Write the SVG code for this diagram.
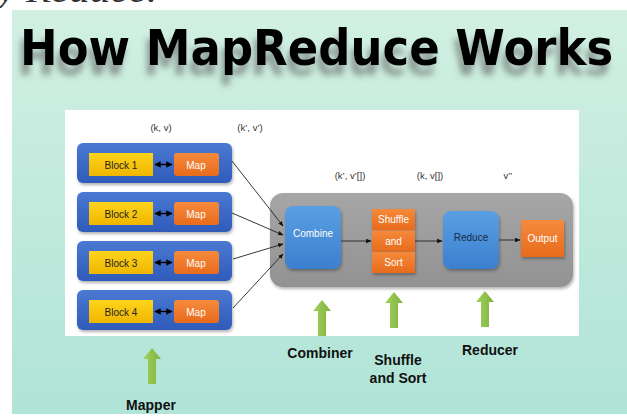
<svg xmlns="http://www.w3.org/2000/svg" width="627" height="417" viewBox="0 0 627 417">
<defs>
<linearGradient id="bg" x1="0" y1="0" x2="0" y2="1"><stop offset="0" stop-color="#d1f0e2"/><stop offset="1" stop-color="#b0e4d7"/></linearGradient>
<linearGradient id="blueRow" x1="0" y1="0" x2="0" y2="1"><stop offset="0" stop-color="#4a79d2"/><stop offset="1" stop-color="#2f5bba"/></linearGradient>
<linearGradient id="yellow" x1="0" y1="0" x2="0" y2="1"><stop offset="0" stop-color="#ffd41c"/><stop offset="1" stop-color="#efb600"/></linearGradient>
<linearGradient id="orange" x1="0" y1="0" x2="0" y2="1"><stop offset="0" stop-color="#f58a3c"/><stop offset="1" stop-color="#e86b1c"/></linearGradient>
<linearGradient id="proc" x1="0" y1="0" x2="0" y2="1"><stop offset="0" stop-color="#5a9fe2"/><stop offset="1" stop-color="#3b80cf"/></linearGradient>
<linearGradient id="gray" x1="0" y1="0" x2="0" y2="1"><stop offset="0" stop-color="#a6a6a6"/><stop offset="1" stop-color="#929292"/></linearGradient>
<linearGradient id="green" x1="0" y1="0" x2="1" y2="0"><stop offset="0" stop-color="#a3d15e"/><stop offset="1" stop-color="#7db23e"/></linearGradient>
<filter id="tshadow" x="-5%" y="-20%" width="110%" height="160%">
<feGaussianBlur in="SourceAlpha" stdDeviation="3" result="b"/>
<feOffset in="b" dx="-3" dy="10" result="o"/>
<feFlood flood-color="#555" flood-opacity="0.55"/>
<feComposite in2="o" operator="in" result="s"/>
<feMerge><feMergeNode in="s"/><feMergeNode in="SourceGraphic"/></feMerge>
</filter>
<filter id="shadow" x="-10%" y="-10%" width="130%" height="140%"><feDropShadow dx="1" dy="2" stdDeviation="1.5" flood-color="#000" flood-opacity="0.3"/></filter>
<marker id="ah" viewBox="0 0 10 10" refX="9" refY="5" markerWidth="6" markerHeight="6" orient="auto-start-reverse"><path d="M0,1 L10,5 L0,9 Z" fill="#111"/></marker>
<marker id="ah2" viewBox="0 0 10 10" refX="9" refY="5" markerWidth="4.5" markerHeight="4.5" orient="auto-start-reverse"><path d="M0,0 L10,5 L0,10 Z" fill="#000"/></marker>
<path id="garrow" d="M0,0 L9,11 L4,11 L4,36 L-4,36 L-4,11 L-9,11 Z" fill="url(#green)"/>
<style>
.row{fill:url(#blueRow);filter:url(#shadow)}
.blk{fill:url(#yellow)}
.map{fill:url(#orange)}
.proc{fill:url(#proc);filter:url(#shadow)}
.t{font-family:"Liberation Sans",Arial,sans-serif;font-size:10px;text-anchor:middle;dominant-baseline:central}
.dk{fill:#222}
.wh{fill:#fff}
.kv{font-family:"Liberation Sans",Arial,sans-serif;font-size:9.5px;fill:#333;text-anchor:middle}
.lbl{font-family:"Liberation Sans",Arial,sans-serif;font-size:14px;font-weight:bold;fill:#111;text-anchor:middle}
.conn{stroke:#222;stroke-width:0.9;fill:none;marker-end:url(#ah)}
.dbl{stroke:#000;stroke-width:1.4;marker-start:url(#ah2);marker-end:url(#ah2)}
</style>
</defs>

<rect x="0" y="0" width="627" height="417" fill="#fff"/>
<text x="-23" y="2" font-family="'Liberation Serif',serif" font-style="italic" font-size="34" fill="#333" textLength="180" lengthAdjust="spacingAndGlyphs">by Reduce.</text>
<rect x="12" y="10" width="615" height="404" fill="url(#bg)"/>

<g id="title" filter="url(#tshadow)">
<text transform="translate(20,65) scale(1,1.12)" x="0" y="0" font-family="'DejaVu Sans',Verdana,sans-serif" font-weight="bold" font-size="45" fill="#000">How MapReduce Works</text>
</g>

<rect id="panel" x="65" y="110" width="514" height="226" fill="#fff"/>

<g id="labels-kv">
<text class="kv" x="161" y="131">(k, v)</text>
<text class="kv" x="250" y="131">(k’, v’)</text>
<text class="kv" x="350" y="179">(k’, v’[])</text>
<text class="kv" x="430" y="179">(k, v[])</text>
<text class="kv" x="508" y="179">v’’</text>
</g>

<g id="mapper1">
<rect class="row" x="77" y="143" width="155" height="40" rx="6"/>
<rect class="blk" x="89" y="153" width="64" height="23"/>
<text class="t dk" x="121" y="165">Block 1</text>
<rect class="map" x="174" y="153" width="45" height="23" rx="3"/>
<text class="t wh" x="196" y="165">Map</text>
</g>
<g id="mapper2">
<rect class="row" x="77" y="192" width="155" height="40" rx="6"/>
<rect class="blk" x="89" y="202" width="64" height="23"/>
<text class="t dk" x="121" y="214">Block 2</text>
<rect class="map" x="174" y="202" width="45" height="23" rx="3"/>
<text class="t wh" x="196" y="214">Map</text>
</g>
<g id="mapper3">
<rect class="row" x="77" y="241" width="155" height="40" rx="6"/>
<rect class="blk" x="89" y="251" width="64" height="23"/>
<text class="t dk" x="121" y="263">Block 3</text>
<rect class="map" x="174" y="251" width="45" height="23" rx="3"/>
<text class="t wh" x="196" y="263">Map</text>
</g>
<g id="mapper4">
<rect class="row" x="77" y="290" width="155" height="40" rx="6"/>
<rect class="blk" x="89" y="300" width="64" height="23"/>
<text class="t dk" x="121" y="312">Block 4</text>
<rect class="map" x="174" y="300" width="45" height="23" rx="3"/>
<text class="t wh" x="196" y="312">Map</text>
</g>

<g id="container">
<rect x="270" y="193" width="303" height="94" rx="13" fill="url(#gray)" filter="url(#shadow)"/>
</g>
<g id="combine">
<rect class="proc" x="285" y="206" width="56" height="63" rx="8"/>
<text class="t wh" x="313" y="233">Combine</text>
</g>
<g id="shuffle">
<g filter="url(#shadow)">
<rect class="map" x="372" y="209" width="43" height="21"/>
<rect class="map" x="372" y="230.5" width="43" height="21"/>
<rect class="map" x="372" y="252" width="43" height="21"/>
</g>
<text class="t wh" x="393.5" y="219.5">Shuffle</text>
<text class="t wh" x="393.5" y="241">and</text>
<text class="t wh" x="393.5" y="262.5">Sort</text>
</g>
<g id="reduce">
<rect class="proc" x="443" y="211" width="56" height="58" rx="8"/>
<text class="t" x="471" y="237" fill="#1b2a48">Reduce</text>
</g>
<g id="output">
<rect class="map" x="521" y="220" width="43" height="37" filter="url(#shadow)"/>
<text class="t wh" x="542.5" y="238">Output</text>
</g>

<g id="connectors">
<line class="dbl" x1="155" y1="164.5" x2="172" y2="164.5"/>
<line class="dbl" x1="155" y1="213.5" x2="172" y2="213.5"/>
<line class="dbl" x1="155" y1="262.5" x2="172" y2="262.5"/>
<line class="dbl" x1="155" y1="311.5" x2="172" y2="311.5"/>
<line class="conn" x1="232" y1="161" x2="283" y2="226"/>
<line class="conn" x1="232" y1="213" x2="283" y2="235"/>
<line class="conn" x1="233" y1="259" x2="283" y2="244"/>
<line class="conn" x1="233" y1="308" x2="283" y2="254"/>
<line class="conn" x1="341" y1="241" x2="371" y2="241"/>
<line class="conn" x1="415" y1="241" x2="442" y2="241"/>
<line class="conn" x1="499" y1="240" x2="520" y2="240"/>
</g>

<g id="arrows-up">
<use href="#garrow" x="152" y="348"/>
<use href="#garrow" x="322" y="300"/>
<use href="#garrow" x="394" y="292"/>
<use href="#garrow" x="485" y="291"/>
</g>

<g id="stage-labels">
<text class="lbl" x="320" y="358">Combiner</text>
<text class="lbl" x="398" y="365">Shuffle</text>
<text class="lbl" x="398" y="383">and Sort</text>
<text class="lbl" x="490" y="355">Reducer</text>
<text class="lbl" x="151" y="410">Mapper</text>
</g>
</svg>
